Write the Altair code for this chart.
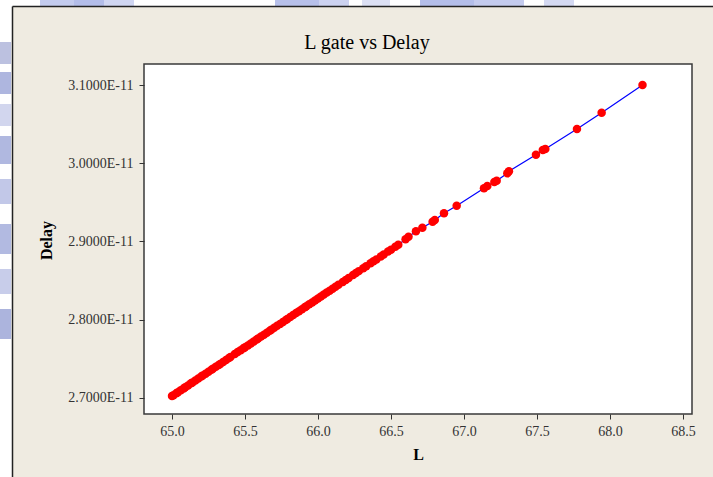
import altair as alt
import pandas as pd

# Gate length L and the simulated delay (in ps) for each sample
gate_length = [
    65.00, 65.01, 65.03, 65.04, 65.06, 65.08, 65.09, 65.11, 65.13, 65.14,
    65.16, 65.18, 65.20, 65.21, 65.23, 65.25, 65.27, 65.28, 65.30, 65.32,
    65.33, 65.35, 65.37, 65.39, 65.40, 65.43, 65.45, 65.47, 65.49, 65.50,
    65.52, 65.54, 65.56, 65.58, 65.59, 65.61, 65.63, 65.65, 65.67, 65.68,
    65.70, 65.72, 65.74, 65.76, 65.78, 65.79, 65.81, 65.83, 65.85, 65.87,
    65.89, 65.91, 65.92, 65.94, 65.96, 65.98, 66.00, 66.02, 66.04, 66.06,
    66.08, 66.10, 66.12, 66.14, 66.17, 66.19, 66.21, 66.24, 66.26, 66.28,
    66.31, 66.33, 66.36, 66.38, 66.40, 66.43, 66.45, 66.48, 66.50, 66.53,
    66.55, 66.60, 66.62, 66.671, 66.715, 66.785, 66.80, 66.863, 66.95, 67.137,
    67.16, 67.208, 67.224, 67.297, 67.308, 67.493, 67.54, 67.557, 67.774, 67.943,
    68.223,
]
delay_ps = [
    27.020, 27.032, 27.058, 27.070, 27.095, 27.118, 27.132, 27.157, 27.183, 27.195,
    27.220, 27.244, 27.270, 27.283, 27.307, 27.331, 27.357, 27.371, 27.395, 27.419,
    27.432, 27.456, 27.482, 27.506, 27.520, 27.560, 27.584, 27.608, 27.632, 27.645,
    27.669, 27.694, 27.720, 27.744, 27.757, 27.782, 27.806, 27.832, 27.857, 27.869,
    27.894, 27.920, 27.944, 27.968, 27.994, 28.007, 28.032, 28.057, 28.082, 28.106,
    28.132, 28.157, 28.169, 28.194, 28.219, 28.244, 28.269, 28.294, 28.320, 28.344,
    28.369, 28.394, 28.419, 28.444, 28.481, 28.507, 28.531, 28.569, 28.594, 28.619,
    28.656, 28.681, 28.719, 28.744, 28.769, 28.806, 28.831, 28.869, 28.894, 28.931,
    28.956, 29.026, 29.060, 29.129, 29.175, 29.251, 29.273, 29.359, 29.456, 29.679,
    29.708, 29.759, 29.776, 29.870, 29.896, 30.108, 30.168, 30.181, 30.437, 30.646,
    31.000,
]

x_ticks = [65.0, 65.5, 66.0, 66.5, 67.0, 67.5, 68.0, 68.5]
y_ticks = [2.7e-11, 2.8e-11, 2.9e-11, 3.0e-11, 3.1e-11]

df = pd.DataFrame({"L": gate_length, "Delay": [d * 1e-12 for d in delay_ps]})

FONT = "Liberation Serif"
INK = "#333333"

x_enc = alt.X(
    "L:Q",
    scale=alt.Scale(domain=[64.808, 68.562], nice=False, zero=False),
    axis=alt.Axis(
        values=x_ticks, format=".1f", title="L", grid=False, domain=False,
        tickSize=5, tickColor=INK, labelPadding=5, labelFont=FONT, labelFontSize=14,
        labelColor=INK, titleFont=FONT, titleFontSize=16, titleFontWeight="bold",
        titleColor="black", titleBaseline="alphabetic", titleY=45,
    ),
)
y_enc = alt.Y(
    "Delay:Q",
    scale=alt.Scale(domain=[2.6791e-11, 3.1269e-11], nice=False, zero=False),
    axis=alt.Axis(
        values=y_ticks, labelExpr="replace(format(datum.value, '.4e'), 'e', 'E')",
        title="Delay", grid=False, domain=False, tickSize=5, tickColor=INK,
        labelPadding=6, labelFont=FONT, labelFontSize=14, labelColor=INK,
        titleFont=FONT, titleFontSize=16, titleFontWeight="bold", titleColor="black",
        titleAngle=270, titleBaseline="alphabetic", titleX=-93, titleY=176,
    ),
)

base = alt.Chart(df)
line = base.mark_line(color="#0000FF", strokeWidth=1.2).encode(x=x_enc, y=y_enc, order="L:Q")
points = base.mark_circle(color="#FF0000", size=72, opacity=1).encode(x=x_enc, y=y_enc)

one = pd.DataFrame({"k": [0]})

# chart heading, centred on the panel
heading = alt.Chart(one).mark_text(
    text="L gate vs Delay", font=FONT, fontSize=20, color="black",
    align="center", baseline="alphabetic",
).encode(x=alt.value(223), y=alt.value(-15))

# window frame around the panel: white margin strips and the dark edge
frame = [
    alt.Chart(one).mark_rect(color="white").encode(
        x=alt.value(-144), x2=alt.value(-131), y=alt.value(-64), y2=alt.value(413)),
    alt.Chart(one).mark_rect(color="white").encode(
        x=alt.value(-144), x2=alt.value(569), y=alt.value(-64), y2=alt.value(-57)),
]
blocks = [
    (-104, -64, -70, -58, "#C3CBEE"), (-70, -64, -40, -58, "#B3BDE9"),
    (-40, -64, -10, -58, "#D0D6F2"), (131, -64, 175, -58, "#B7C0EA"),
    (175, -64, 205, -58, "#CCD2F0"), (218, -64, 246, -58, "#DCE0F4"),
    (276, -64, 330, -58, "#B4BEEA"), (330, -64, 380, -58, "#C4CBEE"),
    (400, -64, 430, -58, "#D4D9F2"),
    (-144, -22, -133, 0, "#BCC1E0"), (-144, 8, -133, 30, "#AEB6DF"),
    (-144, 40, -133, 62, "#D2D6EE"), (-144, 72, -133, 100, "#B0B8E0"),
    (-144, 115, -133, 140, "#C2C8E8"), (-144, 160, -133, 190, "#B2BAE1"),
    (-144, 205, -133, 230, "#C8CDEA"), (-144, 245, -133, 275, "#ACB4DD"),
]
for bx0, by0, bx1, by1, bc in blocks:
    frame.append(alt.Chart(one).mark_rect(color=bc).encode(
        x=alt.value(bx0), x2=alt.value(bx1), y=alt.value(by0), y2=alt.value(by1)))
frame += [
    alt.Chart(one).mark_rule(color="#222222", strokeWidth=1.5).encode(
        x=alt.value(-131.5), y=alt.value(-57.5), y2=alt.value(413)),
    alt.Chart(one).mark_rule(color="#222222", strokeWidth=1.5).encode(
        x=alt.value(-131.5), x2=alt.value(569), y=alt.value(-57.5)),
]

chart = alt.layer(*frame, heading, line, points).properties(
    width=548,
    height=350,
    autosize=alt.AutoSizeParams(type="none"),
    padding={"left": 144, "top": 64, "right": 21, "bottom": 63},
).configure(
    background="#EFEBE1",
).configure_view(
    fill="white", stroke="#3a3a3a", strokeWidth=1.5,
)

chart.save("out.html", embed_options={"renderer": "svg", "actions": False})
